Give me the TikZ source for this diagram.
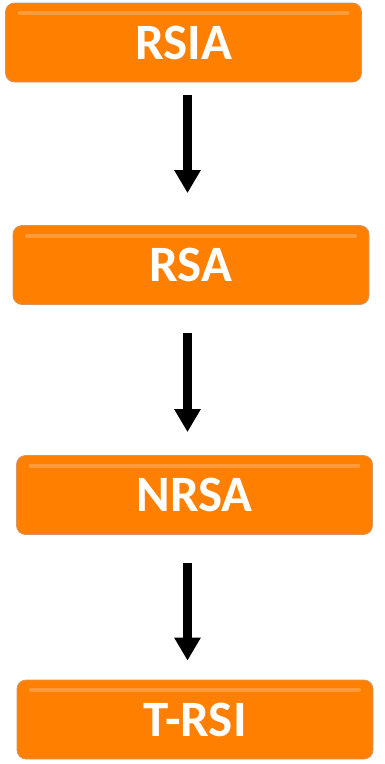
\documentclass[tikz,border=0pt]{standalone}
\usepackage{fontspec}
\setmainfont{Carlito}
\usetikzlibrary{arrows.meta}
\definecolor{boxorange}{RGB}{255,128,0}
\definecolor{boxedge}{RGB}{215,150,100}
\tikzset{
 stagebox/.style={draw=boxedge, line width=0.8pt, fill=boxorange, rounded corners=9pt,
   minimum width=356pt, minimum height=79pt, inner sep=0pt, text=white,
   font=\fontsize{51}{51}\selectfont\bfseries,
   path picture={
     \draw[white, opacity=0.22, line width=4pt, line cap=round]
       ([xshift=14pt,yshift=-10pt]path picture bounding box.north west) --
       ([xshift=-14pt,yshift=-10pt]path picture bounding box.north east);
   }},
 flowarrow/.style={line width=8.5pt, -{Triangle[width=25pt,length=23pt]}}
}
\begin{document}
\begin{tikzpicture}[x=1pt,y=-1pt]
\useasboundingbox (0,0) rectangle (385,764);
\node[stagebox] (b1) at (183.5,42.5) {RSIA};
\node[stagebox] (b2) at (191,265) {RSA};
\node[stagebox] (b3) at (194.5,495) {NRSA};
\node[stagebox] (b4) at (195,719.5) {T-RSI};
\coordinate (ax) at (187.5,0);
\draw[flowarrow, shorten <=13pt, shorten >=32pt] (b1.south -| ax) -- (b2.north -| ax);
\draw[flowarrow, shorten <=28pt, shorten >=23pt] (b2.south -| ax) -- (b3.north -| ax);
\draw[flowarrow, shorten <=28pt, shorten >=19pt] (b3.south -| ax) -- (b4.north -| ax);
\end{tikzpicture}
\end{document}
